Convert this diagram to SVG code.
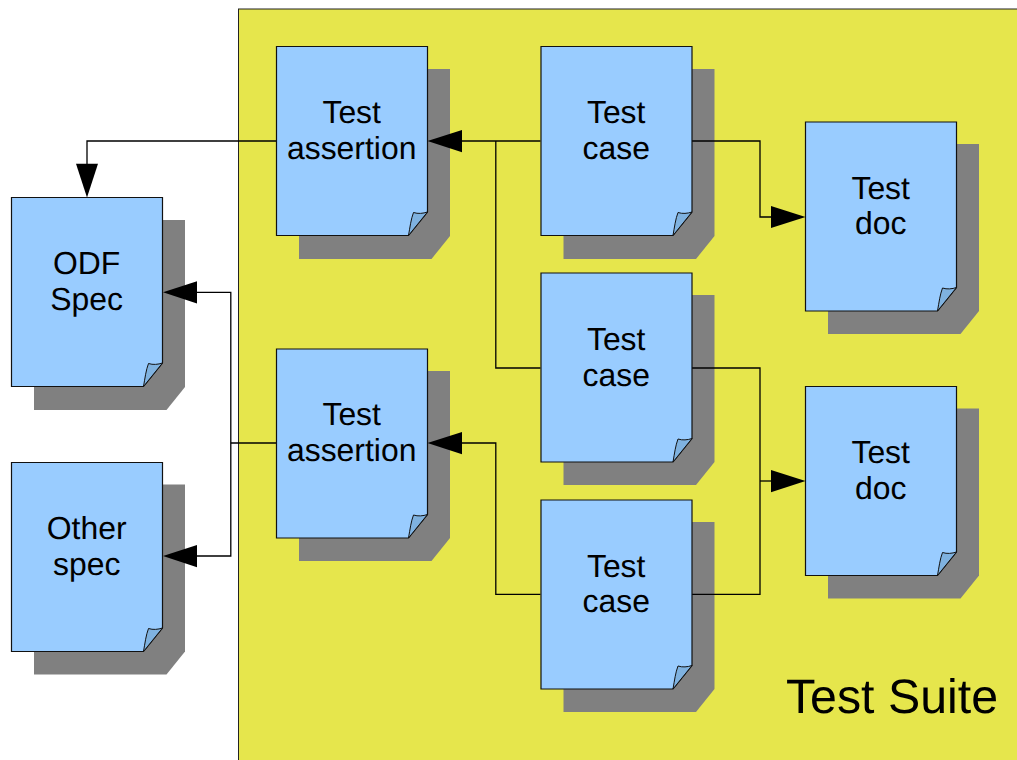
<svg xmlns="http://www.w3.org/2000/svg" width="1017" height="760" viewBox="0 0 1017 760">
<style>
.shadow{fill:#808080;stroke:none}
.page{fill:#99ccff;stroke:#111;stroke-width:1.2}
.fold{fill:#7fb2e0;stroke:#111;stroke-width:1}
.lbl{font-family:"Liberation Sans",Arial,sans-serif;font-size:31.9px;fill:#000;text-anchor:middle;text-rendering:geometricPrecision}
.conn{fill:none;stroke:#000;stroke-width:1.3}
.head{fill:#000;stroke:none}
</style>
<defs>
<g id="shadow"><path class="shadow" d="M23 22.500H174V189.500L155.500 212.500H23Z"/></g>
<g id="page"><path class="page" d="M0.500 0.500H151.500V166L132.500 189.500H0.500Z"/><path class="fold" d="M132.500 189.500C134 181 135 173 137.500 166.500C142 168 147 167.500 151.500 166Z"/></g>
</defs>
<rect id="suite-bg" x="238.500" y="9" width="790" height="770" fill="#e6e64c" stroke="#222" stroke-width="1"/>
<text x="892" y="713" font-family="Liberation Sans, Arial, sans-serif" font-size="48.300" text-anchor="middle" fill="#000" style="text-rendering:geometricPrecision">Test Suite</text>
<g id="shadows">
<use href="#shadow" x="276" y="46.500"/><use href="#shadow" x="540.500" y="46.500"/><use href="#shadow" x="805" y="121.500"/>
<use href="#shadow" x="540.500" y="272.500"/><use href="#shadow" x="805" y="386"/><use href="#shadow" x="276" y="348.500"/>
<use href="#shadow" x="540.500" y="499.500"/><use href="#shadow" x="11" y="197.500"/><use href="#shadow" x="11" y="462"/>
</g>
<g id="connectors">
<path class="conn" d="M276 141H87V165"/><path class="head" d="M76 163.700H98L87 197.500Z"/>
<path class="conn" d="M540.500 141H460"/><path class="head" d="M462 130V152.300L427.500 141Z"/>
<path class="conn" d="M540.500 368H495.800V141"/>
<path class="conn" d="M692 141H760V217H772"/><path class="head" d="M771 206V228L805.500 217Z"/>
<path class="conn" d="M692 368H760V594.300H692"/><path class="conn" d="M760 481H772"/><path class="head" d="M771 470V492.300L805.500 481Z"/>
<path class="conn" d="M540.500 594.300H495.800V443H460"/><path class="head" d="M462 432V454.300L427.500 443Z"/>
<path class="conn" d="M276 443H230.800"/><path class="conn" d="M196 292.300H230.800V556H196"/>
<path class="head" d="M197 281.200V303.500L163 292.300Z"/><path class="head" d="M197 545V567.300L163 556Z"/>
</g>
<g id="assertion-1"><use href="#page" x="276" y="46"/><text class="lbl" x="351.700" y="123">Test</text><text class="lbl" x="351.700" y="158.700">assertion</text></g>
<g id="case-1"><use href="#page" x="540.500" y="46"/><text class="lbl" x="616.200" y="123">Test</text><text class="lbl" x="616.200" y="158.700">case</text></g>
<g id="doc-1"><use href="#page" x="805" y="121.500"/><text class="lbl" x="880.700" y="198.700">Test</text><text class="lbl" x="880.700" y="234.400">doc</text></g>
<g id="case-2"><use href="#page" x="540.500" y="272.500"/><text class="lbl" x="616.200" y="349.700">Test</text><text class="lbl" x="616.200" y="385.700">case</text></g>
<g id="doc-2"><use href="#page" x="805" y="386"/><text class="lbl" x="880.700" y="463.300">Test</text><text class="lbl" x="880.700" y="498.900">doc</text></g>
<g id="assertion-2"><use href="#page" x="276" y="348.500"/><text class="lbl" x="351.700" y="425">Test</text><text class="lbl" x="351.700" y="460.700">assertion</text></g>
<g id="case-3"><use href="#page" x="540.500" y="499.500"/><text class="lbl" x="616.200" y="576.500">Test</text><text class="lbl" x="616.200" y="612.200">case</text></g>
<g id="odf-spec"><use href="#page" x="11" y="197"/><text class="lbl" x="86.700" y="274">ODF</text><text class="lbl" x="86.700" y="309.700">Spec</text></g>
<g id="other-spec"><use href="#page" x="11" y="462"/><text class="lbl" x="86.700" y="539">Other</text><text class="lbl" x="86.700" y="574.700">spec</text></g>
</svg>
